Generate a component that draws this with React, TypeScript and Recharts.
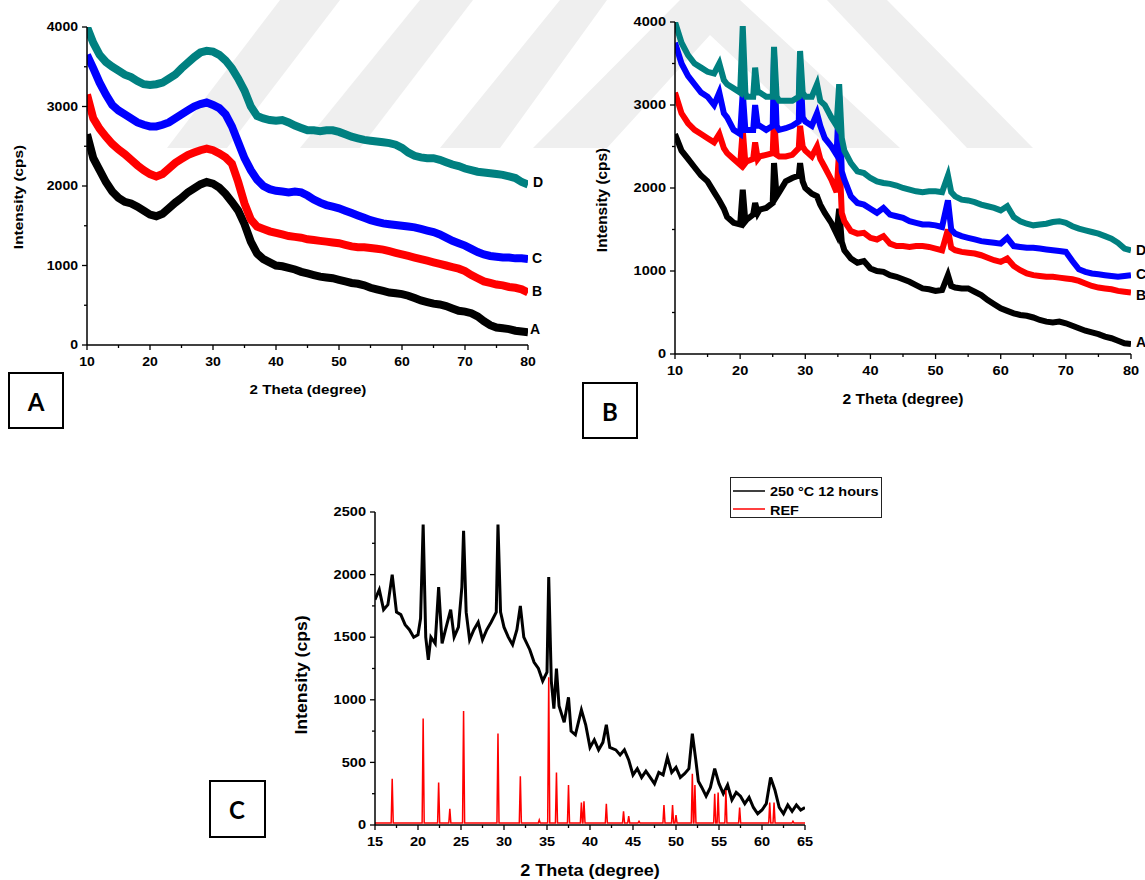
import React from "react";
import { LineChart, Line, XAxis, YAxis } from "recharts";

const FONT = '"Liberation Sans", Arial, Helvetica, sans-serif';

// ---------- panel A (amorphous patterns) ----------
const thetaA = [
  10, 11, 12, 13, 14, 15, 16, 17, 18, 19, 20, 21, 22, 23, 24, 25, 26, 27, 28, 29, 30, 31, 32, 33, 34, 35,
  36, 37, 38, 39, 40, 41, 42, 43, 44, 45, 46, 47, 48, 49, 50, 51, 52, 53, 54, 55, 56, 57, 58, 59, 60, 61,
  62, 63, 64, 65, 66, 67, 68, 69, 70, 71, 72, 73, 74, 75, 76, 77, 78, 79, 80,
];
const aCurveA = [
  2650, 2350, 2200, 2050, 1930, 1850, 1800, 1780, 1740, 1690, 1640, 1620, 1650, 1720, 1790, 1850, 1920, 1970, 2020, 2050, 2030, 1980, 1900, 1800, 1690, 1520,
  1300, 1150, 1080, 1040, 1000, 990, 970, 950, 920, 900, 880, 860, 850, 840, 820, 800, 780, 770, 750, 720, 700, 680, 660, 650, 640, 620,
  590, 560, 540, 520, 510, 490, 460, 430, 420, 400, 360, 300, 250, 220, 210, 200, 180, 170, 160,
];
const bCurveA = [
  3150, 2850, 2720, 2620, 2530, 2460, 2400, 2330, 2260, 2200, 2150, 2120, 2150, 2220, 2290, 2340, 2390, 2420, 2450, 2470, 2450, 2410, 2360, 2280, 2050, 1780,
  1580, 1490, 1460, 1430, 1410, 1390, 1370, 1360, 1350, 1330, 1320, 1310, 1300, 1290, 1280, 1260, 1240, 1230, 1230, 1220, 1210, 1200, 1180, 1160, 1140, 1120,
  1100, 1080, 1060, 1040, 1020, 1000, 980, 960, 930, 880, 840, 800, 780, 760, 750, 730, 720, 700, 660,
];
const cCurveA = [
  3650, 3480, 3300, 3150, 3020, 2950, 2900, 2850, 2800, 2770, 2750, 2750, 2770, 2800, 2850, 2900, 2950, 3000, 3030, 3050, 3020, 2980, 2900, 2750, 2550, 2350,
  2200, 2080, 2000, 1960, 1940, 1930, 1920, 1930, 1920, 1880, 1830, 1790, 1760, 1740, 1720, 1690, 1660, 1630, 1600, 1570, 1550, 1530, 1520, 1510, 1500, 1490,
  1480, 1460, 1440, 1420, 1390, 1350, 1310, 1280, 1250, 1210, 1170, 1140, 1120, 1110, 1100, 1100, 1090, 1090, 1080,
];
const dCurveA = [
  4000, 3800, 3650, 3560, 3500, 3450, 3400, 3370, 3320, 3280, 3270, 3280, 3300, 3350, 3400, 3480, 3550, 3620, 3680, 3700, 3690, 3650, 3580, 3480, 3350, 3200,
  3000, 2880, 2850, 2830, 2820, 2830, 2800, 2760, 2730, 2700, 2700, 2690, 2700, 2700, 2680, 2650, 2620, 2600, 2580, 2570, 2560, 2550, 2540, 2520, 2480, 2420,
  2380, 2360, 2350, 2350, 2330, 2300, 2270, 2250, 2220, 2200, 2180, 2170, 2160, 2150, 2140, 2120, 2100, 2050, 2020,
];

// ---------- panel B (crystalline peaks) ----------
const thetaB = [
  10, 11, 12, 13, 14, 15, 16, 16.8, 17.5, 18, 19, 20, 20.4, 20.8, 21, 22, 22.3, 22.7, 23, 24, 25, 25.2, 25.6, 26, 27, 28, 29, 29.2,
  29.6, 30, 31, 31.8, 32.3, 33, 34, 34.8, 35.2, 35.6, 36, 37, 38, 39, 40, 41, 42, 43, 44, 45, 46, 47, 48, 49, 50, 51, 51.9, 52.4,
  53, 54, 55, 56, 57, 58, 59, 60, 61, 62, 63, 64, 65, 66, 67, 68, 69, 70, 71, 72, 73, 74, 75, 76, 77, 78, 79, 80,
];
const aCurveB = [
  2650, 2450, 2350, 2250, 2150, 2080, 1950, 1850, 1750, 1650, 1580, 1560, 1980, 1600, 1620, 1680, 1820, 1700, 1740, 1760, 1820, 2300, 1900, 1950, 2080, 2120, 2150, 2300,
  2080, 2000, 1930, 1900, 1800, 1700, 1580, 1450, 1750, 1350, 1250, 1150, 1100, 1120, 1030, 1000, 990, 950, 930, 900, 870, 830, 790, 780, 760, 770, 950, 820,
  800, 790, 790, 750, 710, 650, 600, 550, 520, 490, 470, 460, 440, 410, 390, 380, 390, 370, 340, 310, 280, 260, 240, 210, 190, 160, 130, 120,
];
const bCurveB = [
  3150, 2900, 2780, 2700, 2650, 2600, 2550, 2650, 2480, 2420, 2350, 2280, 2700, 2300, 2320, 2350, 2550, 2350, 2380, 2400, 2420, 2850, 2400, 2380, 2380, 2400, 2480, 2750,
  2500, 2450, 2380, 2500, 2350, 2250, 2100, 1950, 2450, 1700, 1600, 1480, 1450, 1460, 1400, 1380, 1420, 1330, 1300, 1300, 1290, 1300, 1300, 1290, 1270, 1250, 1500, 1280,
  1250, 1230, 1220, 1210, 1190, 1160, 1130, 1110, 1150, 1060, 1010, 970, 950, 940, 930, 930, 920, 910, 900, 880, 850, 820, 800, 790, 780, 760, 750, 740,
];
const cCurveB = [
  3750, 3500, 3350, 3250, 3150, 3100, 3000, 3150, 2900, 2850, 2700, 2650, 3150, 2700, 2700, 2700, 3000, 2750, 2750, 2700, 2750, 3600, 2750, 2700, 2720, 2750, 2800, 3500,
  2850, 2800, 2750, 2900, 2750, 2600, 2500, 2400, 3100, 2200, 2100, 1900, 1820, 1800, 1750, 1700, 1760, 1680, 1660, 1640, 1600, 1580, 1560, 1560, 1550, 1530, 1850, 1500,
  1450, 1420, 1400, 1380, 1360, 1350, 1340, 1330, 1400, 1300, 1290, 1280, 1280, 1270, 1260, 1250, 1240, 1230, 1120, 1020, 990, 970, 960, 950, 940, 930, 940, 950,
];
const dCurveB = [
  4000, 3750, 3600, 3500, 3450, 3400, 3380, 3500, 3300, 3250, 3200, 3150, 3950, 3150, 3100, 3100, 3450, 3150, 3150, 3100, 3100, 3700, 3100, 3050, 3050, 3050, 3100, 3650,
  3150, 3100, 3100, 3250, 3050, 3000, 2850, 2750, 3250, 2600, 2450, 2300, 2200, 2180, 2120, 2080, 2060, 2050, 2030, 2000, 1980, 1960, 1950, 1960, 1960, 1950, 2150, 1950,
  1900, 1860, 1850, 1830, 1800, 1780, 1760, 1730, 1780, 1650, 1600, 1570, 1550, 1560, 1570, 1590, 1600, 1580, 1540, 1510, 1490, 1470, 1450, 1420, 1390, 1340, 1270, 1250,
];

// ---------- panel C (sample vs reference) ----------
const sample250: [number, number][] = [
  [15, 1800], [15.5, 1880], [16, 1720], [16.5, 1760], [17, 2000], [17.5, 1700], [18, 1680], [18.5, 1600], [19, 1560], [19.5, 1500],
  [20, 1520], [20.3, 1650], [20.6, 2400], [20.9, 1500], [21.2, 1320], [21.5, 1500], [22, 1450], [22.4, 1900], [22.8, 1450], [23.2, 1560],
  [23.8, 1720], [24.2, 1500], [24.7, 1580], [25.1, 1900], [25.3, 2350], [25.6, 1700], [26, 1480], [26.5, 1560], [27, 1620], [27.5, 1480],
  [28, 1560], [28.5, 1620], [29.1, 1700], [29.3, 2400], [29.6, 1700], [30, 1580], [30.5, 1500], [31, 1440], [31.5, 1560], [31.9, 1750],
  [32.3, 1500], [33, 1400], [33.5, 1300], [34, 1250], [34.5, 1150], [35, 1220], [35.2, 1980], [35.5, 1150], [35.8, 930], [36.1, 1250],
  [36.4, 950], [37, 820], [37.5, 1020], [37.8, 750], [38.3, 720], [39, 920], [39.5, 800], [40, 620], [40.5, 680], [41, 600],
  [41.5, 660], [41.9, 800], [42.3, 620], [43, 600], [43.5, 560], [44, 600], [44.5, 520], [45, 400], [45.5, 450], [46, 380],
  [46.5, 430], [47, 380], [47.5, 330], [48, 420], [48.5, 400], [49, 540], [49.5, 420], [50, 460], [50.5, 380], [51, 410],
  [51.5, 450], [51.9, 730], [52.3, 520], [52.6, 350], [53, 300], [53.5, 230], [54, 300], [54.5, 450], [55, 330], [55.5, 250],
  [56, 320], [56.5, 200], [57, 260], [57.5, 230], [58, 170], [58.5, 220], [59, 140], [59.5, 90], [60, 120], [60.5, 170],
  [61, 380], [61.5, 280], [62, 140], [62.5, 90], [63, 160], [63.5, 110], [64, 160], [64.5, 120], [65, 140],
];
const refPos = [17.0, 20.6, 22.4, 23.7, 25.3, 29.3, 31.9, 34.1, 35.2, 36.1, 37.5, 39.0, 39.3, 41.9, 43.9, 44.5, 45.7, 47.6, 48.6, 49.6, 50.0, 51.9, 52.2, 54.5, 54.9, 55.8, 57.4, 60.9, 61.4, 63.6];
const refHeight = [370, 850, 340, 130, 910, 730, 390, 40, 1180, 420, 320, 180, 190, 170, 110, 70, 30, 15, 160, 160, 80, 410, 320, 250, 260, 280, 140, 180, 180, 30];
const refBase = 15;

type Pt = { x: number; y: number };
const toPts = (xs: number[], ys: number[]): Pt[] => xs.map((x, i) => ({ x, y: ys[i] }));

const refPts: Pt[] = [{ x: 15, y: refBase }];
refPos.forEach((p, i) => {
  refPts.push({ x: p - 0.12, y: refBase }, { x: p, y: refHeight[i] }, { x: p + 0.12, y: refBase });
});
refPts.push({ x: 65, y: refBase });

const TEAL = "#008080";
const BLUE = "#0000ff";
const RED = "#ff0000";
const BLACK = "#000000";

interface Series {
  name: string;
  data: Pt[];
  color: string;
  width: number;
}

// bold text, optionally stretched horizontally like the original export
function T(props: {
  x: number;
  y: number;
  size: number;
  sx?: number;
  rotate?: number;
  anchor?: "start" | "middle" | "end";
  children: React.ReactNode;
  family?: string;
}) {
  const { x, y, size, sx = 1, rotate = 0, anchor = "middle", children, family = FONT } = props;
  return (
    <text
      transform={`translate(${x},${y}) rotate(${rotate}) scale(${sx},1)`}
      textAnchor={anchor}
      dominantBaseline="central"
      fontFamily={family}
      fontWeight="bold"
      fontSize={size}
      fill="#000"
    >
      {children}
    </text>
  );
}

interface PanelProps {
  left: number;
  top: number;
  width: number;
  height: number;
  margin: { top: number; right: number; bottom: number; left: number };
  xDomain: [number, number];
  xTicks: number[];
  xMajor: number;
  yDomain: [number, number];
  yTicks: number[];
  yMajor: number;
  series: Series[];
  fontSize: number;
  sx: number;
  xLabelDy: number;
}

function Panel(p: PanelProps) {
  const isMajor = (v: number, step: number) => Math.abs(v / step - Math.round(v / step)) < 1e-6;

  const xTick = (t: any) => {
    const major = isMajor(t.payload.value, p.xMajor);
    return (
      <g>
        <line x1={t.x} x2={t.x} y1={t.y} y2={t.y + (major ? 5 : 3)} stroke="#000" strokeWidth={1.3} />
        {major && (
          <T x={t.x} y={t.y + p.xLabelDy} size={p.fontSize} sx={p.sx}>
            {t.payload.value}
          </T>
        )}
      </g>
    );
  };

  const yTick = (t: any) => {
    const major = isMajor(t.payload.value, p.yMajor);
    return (
      <g>
        <line x1={t.x} x2={t.x - (major ? 5 : 3)} y1={t.y} y2={t.y} stroke="#000" strokeWidth={1.3} />
        {major && (
          <T x={t.x - 9} y={t.y} size={p.fontSize} sx={p.sx} anchor="end">
            {t.payload.value}
          </T>
        )}
      </g>
    );
  };

  return (
    <div style={{ position: "absolute", left: p.left, top: p.top }}>
      <LineChart width={p.width} height={p.height} margin={p.margin}>
        <XAxis
          type="number"
          dataKey="x"
          domain={p.xDomain}
          ticks={p.xTicks}
          interval={0}
          allowDataOverflow
          height={30}
          tickSize={0}
          tickMargin={0}
          tickLine={false}
          axisLine={{ stroke: "#000", strokeWidth: 1.5 }}
          tick={xTick}
        />
        <YAxis
          type="number"
          dataKey="y"
          domain={p.yDomain}
          ticks={p.yTicks}
          interval={0}
          allowDataOverflow
          width={60}
          tickSize={0}
          tickMargin={0}
          tickLine={false}
          axisLine={{ stroke: "#000", strokeWidth: 1.5 }}
          tick={yTick}
        />
        {p.series.map((s) => (
          <Line
            key={s.name}
            data={s.data}
            dataKey="y"
            type="linear"
            stroke={s.color}
            strokeWidth={s.width}
            dot={false}
            activeDot={false}
            isAnimationActive={false}
          />
        ))}
      </LineChart>
    </div>
  );
}

const ticks5to80 = [10, 15, 20, 25, 30, 35, 40, 45, 50, 55, 60, 65, 70, 75, 80];
const ticks0to4000 = [0, 500, 1000, 1500, 2000, 2500, 3000, 3500, 4000];
const ticksC = [15, 17.5, 20, 22.5, 25, 27.5, 30, 32.5, 35, 37.5, 40, 42.5, 45, 47.5, 50, 52.5, 55, 57.5, 60, 62.5, 65];
const ticksCy = [0, 250, 500, 750, 1000, 1250, 1500, 1750, 2000, 2250, 2500];

const seriesA: Series[] = [
  { name: "A", data: toPts(thetaA, aCurveA), color: BLACK, width: 8 },
  { name: "B", data: toPts(thetaA, bCurveA), color: RED, width: 8 },
  { name: "C", data: toPts(thetaA, cCurveA), color: BLUE, width: 8 },
  { name: "D", data: toPts(thetaA, dCurveA), color: TEAL, width: 8 },
];
const seriesB: Series[] = [
  { name: "A", data: toPts(thetaB, aCurveB), color: BLACK, width: 6 },
  { name: "B", data: toPts(thetaB, bCurveB), color: RED, width: 6 },
  { name: "C", data: toPts(thetaB, cCurveB), color: BLUE, width: 6 },
  { name: "D", data: toPts(thetaB, dCurveB), color: TEAL, width: 6 },
];
const seriesC: Series[] = [
  { name: "250", data: sample250.map(([x, y]) => ({ x, y })), color: BLACK, width: 3 },
  { name: "REF", data: refPts, color: RED, width: 1.5 },
];

const BOXFONT = "Lato, 'Open Sans', sans-serif";

// faint page watermark behind the panels
const watermark = [
  "280,0 340,0 227,148 167,148",
  "420,0 473,0 360,148 300,148",
  "560,0 607,0 500,148 440,148",
  "680,0 740,0 900,148 830,148 710,35 607,148 533,148",
  "827,0 887,0 1033,148 967,148",
];

export default function App() {
  return (
    <div style={{ position: "absolute", left: 0, top: 0, width: 1145, height: 880, overflow: "hidden", background: "#fff" }}>
      <svg width={1145} height={880} style={{ position: "absolute", left: 0, top: 0 }}>
        {watermark.map((pts) => (
          <polygon key={pts} points={pts} fill="#efefef" />
        ))}
      </svg>
      <Panel
        left={0}
        top={0}
        width={560}
        height={440}
        margin={{ top: 27, right: 32, bottom: 65, left: 27 }}
        xDomain={[10, 80]}
        xTicks={ticks5to80}
        xMajor={10}
        yDomain={[0, 4000]}
        yTicks={ticks0to4000}
        yMajor={1000}
        series={seriesA}
        fontSize={13}
        sx={1.08}
        xLabelDy={17}
      />
      <Panel
        left={580}
        top={0}
        width={565}
        height={440}
        margin={{ top: 22, right: 14, bottom: 56, left: 35 }}
        xDomain={[10, 80]}
        xTicks={ticks5to80}
        xMajor={10}
        yDomain={[0, 4000]}
        yTicks={ticks0to4000}
        yMajor={1000}
        series={seriesB}
        fontSize={13}
        sx={1.12}
        xLabelDy={17}
      />
      <Panel
        left={280}
        top={470}
        width={560}
        height={410}
        margin={{ top: 42, right: 35, bottom: 25, left: 35 }}
        xDomain={[15, 65]}
        xTicks={ticksC}
        xMajor={5}
        yDomain={[0, 2500]}
        yTicks={ticksCy}
        yMajor={500}
        series={seriesC}
        fontSize={13}
        sx={1.12}
        xLabelDy={17}
      />

      <svg width={1145} height={880} style={{ position: "absolute", left: 0, top: 0, pointerEvents: "none" }}>
        {/* panel A texts */}
        <T x={308} y={389} size={13.5} sx={1.12}>2 Theta (degree)</T>
        <T x={18} y={197} size={13.5} sx={1.14} rotate={-90}>Intensity (cps)</T>
        <T x={538} y={182} size={14}>D</T>
        <T x={537} y={258} size={14}>C</T>
        <T x={537} y={291} size={14}>B</T>
        <T x={535} y={329} size={14}>A</T>
        <rect x={9} y={373} width={54} height={55} fill="none" stroke="#000" strokeWidth={2} />
        <T x={36} y={401} size={24} family={BOXFONT}>A</T>

        {/* panel B texts */}
        <T x={903} y={399} size={14} sx={1.12}>2 Theta (degree)</T>
        <T x={602} y={200} size={14} sx={1.1} rotate={-90}>Intensity (cps)</T>
        <T x={1136} y={250} size={14} anchor="start">D</T>
        <T x={1136} y={274} size={14} anchor="start">C</T>
        <T x={1136} y={295} size={14} anchor="start">B</T>
        <T x={1136} y={342} size={14} anchor="start">A</T>
        <rect x={583} y={383} width={54} height={55} fill="none" stroke="#000" strokeWidth={2} />
        <T x={610} y={411} size={24} family={BOXFONT}>B</T>

        {/* panel C texts */}
        <T x={590} y={871} size={16} sx={1.13}>2 Theta (degree)</T>
        <T x={302} y={675} size={16} sx={1.1} rotate={-90}>Intensity (cps)</T>
        <rect x={210} y={781} width={55} height={56} fill="none" stroke="#000" strokeWidth={2} />
        <T x={237} y={809} size={24} family={BOXFONT}>C</T>

        {/* legend of panel C */}
        <rect x={730.5} y={477.5} width={151} height={40} fill="#fff" stroke="#222" strokeWidth={1} />
        <line x1={733} x2={765} y1={491} y2={491} stroke={BLACK} strokeWidth={1.5} />
        <line x1={733} x2={765} y1={509} y2={509} stroke={RED} strokeWidth={1.5} />
        <T x={770} y={491} size={13.5} sx={1.07} anchor="start">250 °C 12 hours</T>
        <T x={770} y={510} size={13.5} sx={1.07} anchor="start">REF</T>
      </svg>
    </div>
  );
}
